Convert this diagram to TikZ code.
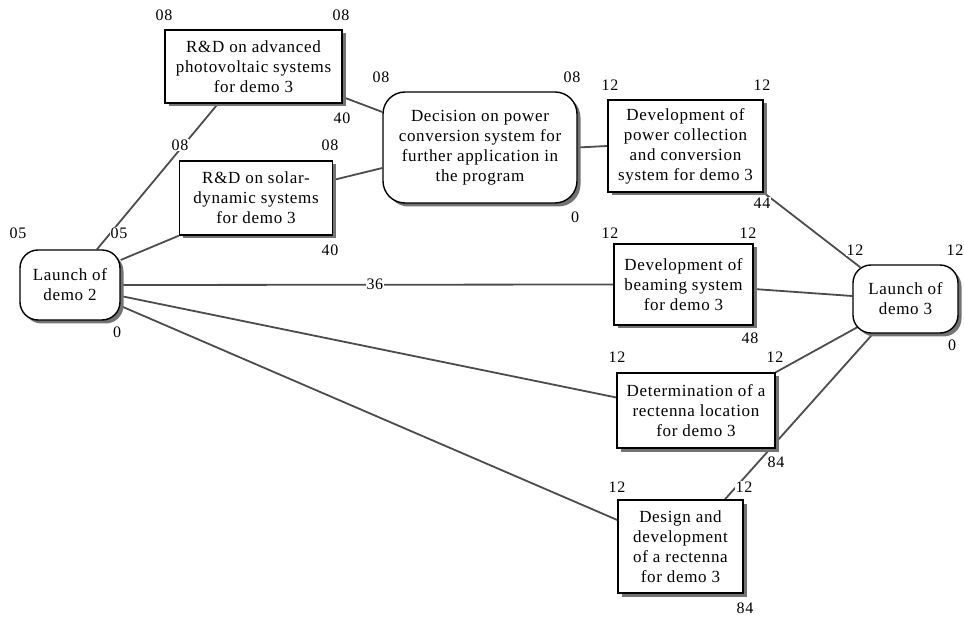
\documentclass[tikz,border=0pt]{standalone}
\usepackage{fontspec}
\setmainfont{Liberation Serif}[LetterSpace=4]
\usetikzlibrary{shadows,calc}
\pgfdeclarelayer{bg}
\pgfsetlayers{bg,main}
\tikzset{
  box/.style={draw=black, line width=1.4pt, fill=white, align=center, inner sep=2pt,
    font=\fontsize{17}{20}\selectfont,
    drop shadow={shadow xshift=3.5pt, shadow yshift=-3.5pt, fill=black!55, opacity=1}},
  rbox/.style={box, rounded corners=18pt},
  num/.style={font=\fontsize{16}{18}\selectfont, inner sep=0.5pt, fill=white},
  link/.style={line width=1.8pt, draw=black!70},
}
\begin{document}
\begin{tikzpicture}[x=1pt,y=-1pt]
\useasboundingbox (0,0) rectangle (964,617);
% boxes
\node[box, minimum width=177pt, minimum height=73pt] (A) at (253.5,66.5) {R\&D on advanced\\photovoltaic systems\\for demo 3};
\node[box, minimum width=153pt, minimum height=74pt] (B) at (256,198) {R\&D on solar-\\dynamic systems\\for demo 3};
\node[rbox, rounded corners=22pt, minimum width=194pt, minimum height=111pt] (D) at (480,147.5) {Decision on power\\conversion system for\\further application in\\the program};
\node[box, minimum width=155pt, minimum height=92pt] (P) at (685.5,146) {Development of\\power collection\\and conversion\\system for demo 3};
\node[rbox, minimum width=100pt, minimum height=70pt] (L2) at (70,285) {Launch of\\demo 2};
\node[box, minimum width=139pt, minimum height=81pt] (M) at (683.5,284.5) {Development of\\beaming system\\for demo 3};
\node[rbox, minimum width=105pt, minimum height=68pt] (L3) at (905.5,299) {Launch of\\demo 3};
\node[box, minimum width=158pt, minimum height=75pt] (R) at (696,410.5) {Determination of a\\rectenna location\\for demo 3};
\node[box, minimum width=125pt, minimum height=93pt] (G) at (680.5,546.5) {Design and\\development\\of a rectenna\\for demo 3};
% connectors
\begin{pgfonlayer}{bg}
\draw[link] ([xshift=27pt]L2.north) -- ([xshift=-35.5pt]A.south);
\draw[link] ([yshift=25pt]L2.east) -- (B.south west);
\draw[link] (L2.east) -- (M.west) node[num, pos=0.516] (n36) {36};
\draw[link] ([yshift=-11pt]L2.east) -- ([yshift=13pt]R.west);
\draw[link] ([yshift=-21pt]L2.east) -- ([yshift=26.5pt]G.west);
\draw[link] ([yshift=-30.5pt]A.east) -- ([yshift=35.5pt]D.west);
\draw[link] ([yshift=18pt]B.east) -- ([yshift=-20.5pt]D.west);
\draw[link] (D.east) -- (P.west);
\draw[link] (P.south east) -- ([xshift=8pt,yshift=-3pt]L3.north west);
\draw[link] ([yshift=-4.5pt]M.east) -- ([yshift=3pt]L3.west);
\draw[link] (R.north east) -- ([xshift=6pt,yshift=7pt]L3.south west);
\draw[link] ([xshift=-32.5pt]L3.south) -- ([xshift=44.5pt]G.north);
\end{pgfonlayer}
% number labels
\node[num] (a1) at (164,15) {08};
\node[num] (a2) at (341,15) {08};
\node[num] (a3) at (342,118) {40};
\node[num] (b1) at (180,145) {08};
\node[num] (b2) at (330,145) {08};
\node[num] (b3) at (330,250) {40};
\node[num] (l1) at (18,233) {05};
\node[num] (l2) at (119,233) {05};
\node[num] (l3) at (117,332) {0};
\node[num] (d1) at (381,77) {08};
\node[num] (d2) at (572,77) {08};
\node[num] (d3) at (575,217) {0};
\node[num] (p1) at (610,85) {12};
\node[num] (p2) at (762,85) {12};
\node[num] (p3) at (762,203) {44};
\node[num] (m1) at (610,233) {12};
\node[num] (m2) at (748,233) {12};
\node[num] (m3) at (750,338) {48};
\node[num] (k1) at (855,250) {12};
\node[num] (k2) at (955,250) {12};
\node[num] (k3) at (952,345) {0};
\node[num] (r1) at (617,357) {12};
\node[num] (r2) at (775,357) {12};
\node[num] (r3) at (776,462) {84};
\node[num] (g1) at (617,487) {12};
\node[num] (g2) at (744,487) {12};
\node[num] (g3) at (745,608) {84};
\end{tikzpicture}
\end{document}
